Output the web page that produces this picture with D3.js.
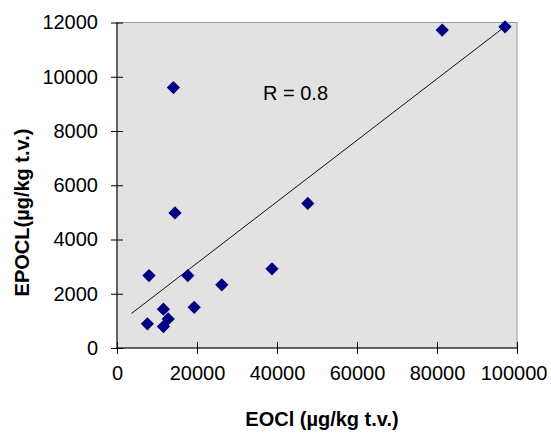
<!DOCTYPE html>
<html>
<head>
<meta charset="utf-8">
<script src="https://cdn.jsdelivr.net/npm/d3@7"></script>
<style>
  html, body { margin: 0; padding: 0; background: #fff; }
  svg { display: block; }
  text { font-family: "Liberation Sans", Arial, sans-serif; fill: #000; }
</style>
</head>
<body>
<svg id="chart" width="551" height="439"></svg>
<script>
// Data (EOCl vs EPOCL, µg/kg t.v.)
const eocl  = [81300, 97000, 14100, 14500, 47700, 8000, 17700, 26200, 38750, 19300, 11600, 12800, 7600, 11600];
const epocl = [11720, 11840, 9600, 4980, 5330, 2670, 2670, 2330, 2920, 1500, 1430, 1070, 890, 790];
const xTicks = [0, 20000, 40000, 60000, 80000, 100000];
const yTicks = [0, 2000, 4000, 6000, 8000, 10000, 12000];
const trendX = [3600, 97000];
const trendY = [1270, 11850];
const rLabel = "R = 0.8";
const xTitle = "EOCl (µg/kg t.v.)";
const yTitle = "EPOCL(µg/kg t.v.)";

const svg = d3.select("#chart");
const mLeft = 117, mRight = 517, mTop = 22.5, mBottom = 348;

const x = d3.scaleLinear().domain([0, 100000]).range([mLeft, mRight]);
const y = d3.scaleLinear().domain([0, 12000]).range([mBottom, mTop]);

// plot area
svg.append("rect")
  .attr("x", mLeft).attr("y", mTop)
  .attr("width", mRight - mLeft).attr("height", mBottom - mTop)
  .attr("fill", "#e2e2e2")
  .attr("stroke", "#9a9a9a").attr("stroke-width", 1);

// trendline
const trend = trendX.map((v, i) => [v, trendY[i]]);
svg.append("path")
  .attr("d", d3.line().x(d => x(d[0])).y(d => y(d[1]))(trend))
  .attr("fill", "none").attr("stroke", "#111").attr("stroke-width", 1);

// points
const pts = eocl.map((v, i) => ({ x: v, y: epocl[i] }));
svg.append("g").selectAll("path").data(pts).join("path")
  .attr("d", d3.symbol(d3.symbolSquare, 88)())
  .attr("transform", d => `translate(${x(d.x)},${y(d.y)}) rotate(45)`)
  .attr("fill", "#000080");

// y axis
const gy = svg.append("g").attr("transform", `translate(${mLeft},0)`)
  .call(d3.axisLeft(y).tickValues(yTicks).tickFormat(d3.format("d")).tickSize(6).tickPadding(13));
gy.select(".domain").attr("stroke", "#000").attr("d", `M0,${mTop}V${mBottom}`);
gy.selectAll(".tick line").attr("x1", -6).attr("x2", 6).attr("stroke", "#000");
gy.selectAll(".tick text").attr("font-size", 20).attr("font-family", "Liberation Sans, Arial, sans-serif").attr("fill", "#000");

// x axis
const gx = svg.append("g").attr("transform", `translate(0,${mBottom})`)
  .call(d3.axisBottom(x).tickValues(xTicks).tickFormat(d3.format("d")).tickSize(6));
gx.select(".domain").attr("stroke", "#000").attr("d", `M${mLeft},0H${mRight}`);
gx.selectAll(".tick line").attr("y1", -6).attr("y2", 6).attr("stroke", "#000");
gx.selectAll(".tick text")
  .attr("font-size", 20).attr("font-family", "Liberation Sans, Arial, sans-serif").attr("fill", "#000")
  .attr("y", 32).attr("dy", 0);
gx.selectAll(".tick text").filter(d => d === 100000).attr("text-anchor", "end").attr("dx", 30);

// R label
svg.append("text").attr("x", 263).attr("y", 100)
  .attr("font-size", 20).text(rLabel);

// axis titles
svg.append("text").attr("x", 322).attr("y", 426)
  .attr("text-anchor", "middle").attr("font-size", 20).attr("font-weight", "bold")
  .text(xTitle);
svg.append("text").attr("transform", "translate(28.5,212.5) rotate(-90)")
  .attr("text-anchor", "middle").attr("font-size", 20).attr("font-weight", "bold")
  .text(yTitle);
</script>
</body>
</html>
